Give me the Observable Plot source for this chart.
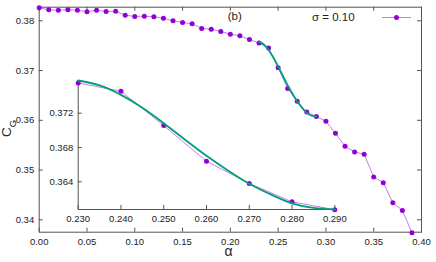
<!DOCTYPE html>
<html><head><meta charset="utf-8">
<script src="https://cdn.jsdelivr.net/npm/d3@7"></script>
<script src="https://cdn.jsdelivr.net/npm/@observablehq/plot@0.6"></script>
<style>
body{margin:0;background:#fff;}
#wrap{position:relative;width:436px;height:262px;overflow:hidden;}
#wrap svg{position:absolute;left:0;top:0;}
</style></head><body><div id="wrap"></div>
<script>
// ---- data ----
const alpha = [0.00,0.01,0.02,0.03,0.04,0.05,0.06,0.07,0.08,0.09,
               0.10,0.11,0.12,0.13,0.14,0.15,0.16,0.17,0.18,0.19,
               0.20,0.21,0.22,0.23,0.24,0.25,0.26,0.27,0.28,0.29,
               0.30,0.31,0.32,0.33,0.34,0.35,0.36,0.37,0.38,0.39];
const cg = [0.38262,0.38221,0.38213,0.38221,0.38213,0.38181,0.38213,0.38187,0.38193,0.38113,
            0.38087,0.38093,0.38080,0.38052,0.38000,0.37966,0.37940,0.37845,0.37831,0.37785,
            0.37730,0.37698,0.37624,0.37552,0.37455,0.37056,0.36640,0.36381,0.36166,0.36075,
            0.35980,0.35738,0.35477,0.35364,0.35316,0.34861,0.34746,0.34344,0.34189,0.33740];
const fitAlpha = [0.230,0.235,0.240,0.245,0.250,0.255,0.260,0.265,0.270,0.275,0.280,0.285,0.290];
const fitCg    = [0.37581,0.37523,0.37413,0.37263,0.37083,0.36890,0.36703,0.36532,0.36378,0.36253,0.36148,0.36095,0.36077];
const xTicks = [0.00,0.05,0.10,0.15,0.20,0.25,0.30,0.35,0.40];
const yTicks = [0.34,0.35,0.36,0.37,0.38];
const insetXTicks = [0.230,0.240,0.250,0.260,0.270,0.280,0.290];
const insetYTicks = [0.364,0.368,0.372];
const legendLabel = "σ = 0.10";
const panelLabel = "(b)";
const xLabel = "α";
const yLabelMain = "C", yLabelSub = "G";

// ---- tables ----
const data = alpha.map((a,i)=>({a, c: cg[i]}));
const fit = fitAlpha.map((a,i)=>({a, c: fitCg[i]}));
const insetData = data.filter(d => d.a >= 0.2299 && d.a <= 0.2901);

const W = 436, H = 262;
const font = "'Liberation Sans', Arial, sans-serif";
const frameC = "#555";
const lineC = "#c77cf2", dotC = "#9400d3", fitC = "#00a077";

// main panel geometry
const mL = 38.7, mR = 15, mT = 6.7, mB = 30.3;
const fw = W - mL - mR, fh = H - mT - mB;
const main = Plot.plot({
  width: W, height: H, marginLeft: mL, marginRight: mR, marginTop: mT, marginBottom: mB,
  style: {fontFamily: font, fontSize: "9.5px", color: "#222", background: "white"},
  x: {domain: [0, 0.40], label: null},
  y: {domain: [0.33751, 0.38273], label: null},
  marks: [
    Plot.frame({stroke: frameC}),
    Plot.tickX(xTicks, {x: d => d, insetTop: fh - 4, stroke: frameC}),
    Plot.tickX(xTicks, {x: d => d, insetBottom: fh - 4, stroke: frameC}),
    Plot.tickY(yTicks, {y: d => d, insetRight: fw - 4, stroke: frameC}),
    Plot.tickY(yTicks, {y: d => d, insetLeft: fw - 4, stroke: frameC}),
    Plot.axisX(xTicks, {tickSize: 0, tickPadding: 6, tickFormat: d3.format(".2f")}),
    Plot.axisY(yTicks, {tickSize: 0, tickPadding: 5, tickFormat: d3.format(".2f")}),
    Plot.line(data, {x: "a", y: "c", stroke: lineC, strokeWidth: 1}),
    Plot.dot(data, {x: "a", y: "c", r: 2.5, fill: dotC, stroke: "none"}),
    Plot.line(fit, {x: "a", y: "c", stroke: fitC, strokeWidth: 1.8, curve: "natural"})
  ]
});

// inset geometry
const iL = 77.7, iR = W - 334.3, iT = 80, iB = H - 209;
const ifw = W - iL - iR, ifh = H - iT - iB;
const iYdom = [0.36077, 0.37581], iXdom = [0.230, 0.290];
const inset = Plot.plot({
  width: W, height: H, marginLeft: iL, marginRight: iR, marginTop: iT, marginBottom: iB,
  style: {fontFamily: font, fontSize: "9.5px", color: "#222", background: "transparent"},
  x: {domain: iXdom, label: null},
  y: {domain: iYdom, label: null},
  marks: [
    Plot.ruleX([iXdom[0]], {stroke: frameC}),
    Plot.ruleY([iYdom[0]], {stroke: frameC}),
    Plot.tickX(insetXTicks, {x: d => d, insetTop: ifh - 4, stroke: frameC}),
    Plot.tickY(insetYTicks, {y: d => d, insetRight: ifw - 4, stroke: frameC}),
    Plot.axisX(insetXTicks, {tickSize: 0, tickPadding: 6, tickFormat: d3.format(".3f")}),
    Plot.axisY(insetYTicks, {tickSize: 0, tickPadding: 5, tickFormat: d3.format(".3f")}),
    Plot.line(insetData, {x: "a", y: "c", stroke: lineC, strokeWidth: 1}),
    Plot.dot(insetData, {x: "a", y: "c", r: 2.5, fill: dotC, stroke: "none"}),
    Plot.line(fit, {x: "a", y: "c", stroke: fitC, strokeWidth: 1.8, curve: "natural"})
  ]
});

const wrap = document.getElementById("wrap");
wrap.appendChild(main);
wrap.appendChild(inset);

// annotations on main svg
const s = d3.select(main);
s.append("text").attr("x", 333.3).attr("y", 21.3).attr("font-family", font).attr("font-size", "11.5px")
  .attr("fill", "#222").text(legendLabel);
s.append("line").attr("x1", 382).attr("x2", 411).attr("y1", 17.5).attr("y2", 17.5)
  .attr("stroke", lineC).attr("stroke-width", 1);
s.append("circle").attr("cx", 396.5).attr("cy", 17.5).attr("r", 2.5).attr("fill", dotC);
s.append("text").attr("x", 234.7).attr("y", 19.5).attr("text-anchor", "middle").attr("font-family", font)
  .attr("font-size", "11.5px").attr("fill", "#222").text(panelLabel);
s.append("text").attr("x", 228.5).attr("y", 256).attr("text-anchor", "middle").attr("font-family", font)
  .attr("font-size", "14px").attr("fill", "#222").text(xLabel);
const yl = s.append("text").attr("transform", "translate(10.5,128.5) rotate(-90)")
  .attr("font-family", font).attr("font-size", "13.5px").attr("fill", "#222");
yl.append("tspan").text(yLabelMain);
yl.append("tspan").attr("font-size", "9.5px").attr("dy", 5).text(yLabelSub);
</script>
</body></html>
